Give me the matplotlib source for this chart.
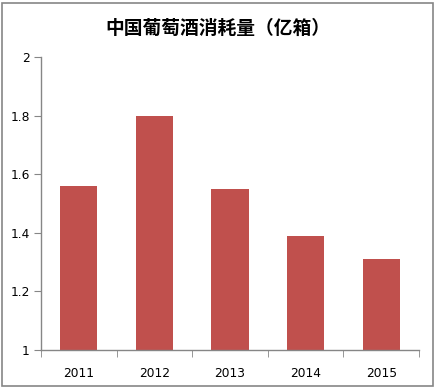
import matplotlib.pyplot as plt
from matplotlib.patches import Rectangle

plt.rcParams['font.family'] = ['Noto Sans CJK SC', 'DejaVu Sans']

# Data
years = ['2011', '2012', '2013', '2014', '2015']
consumption = [1.56, 1.80, 1.55, 1.39, 1.31]
y_ticks = [1, 1.2, 1.4, 1.6, 1.8, 2]
y_labels = ['1', '1.2', '1.4', '1.6', '1.8', '2']

W, H = 435, 388
fig = plt.figure(figsize=(W / 100, H / 100), dpi=100)
ax = fig.add_axes([41 / W, 1 - 350 / H, (419 - 41) / W, (350 - 57) / H])

x = range(len(years))
ax.bar(x, consumption, width=0.49, color='#C0504D', bottom=0)

ax.set_xlim(-0.5, len(years) - 0.5)
ax.set_ylim(1, 2)

grey = '#868686'
for side in ['top', 'right']:
    ax.spines[side].set_visible(False)
for side in ['left', 'bottom']:
    ax.spines[side].set_color(grey)
    ax.spines[side].set_linewidth(1)

ax.set_yticks(y_ticks)
ax.set_yticklabels(y_labels, family='DejaVu Sans', fontsize=8.8)
ax.tick_params(axis='y', length=5, color=grey, pad=3)

ax.set_xticks(list(x))
ax.set_xticklabels(years, family='DejaVu Sans', fontsize=8.8)
ax.tick_params(axis='x', which='major', length=0, pad=12)
ax.set_xticks([i - 0.5 for i in range(len(years) + 1)], minor=True)
ax.tick_params(axis='x', which='minor', length=5, color=grey)

fig.text(0.5, 1 - 28 / H, '中国葡萄酒消耗量（亿箱）', ha='center', va='center',
         fontsize=13.5, fontweight='heavy')

# outer border of the chart area
fig.patches.append(Rectangle((2 / W, 2 / H), (W - 4) / W, (H - 5) / H,
                             transform=fig.transFigure, fill=False,
                             edgecolor=grey, linewidth=1.2))

fig.savefig('out.png', dpi=100)
plt.close()
